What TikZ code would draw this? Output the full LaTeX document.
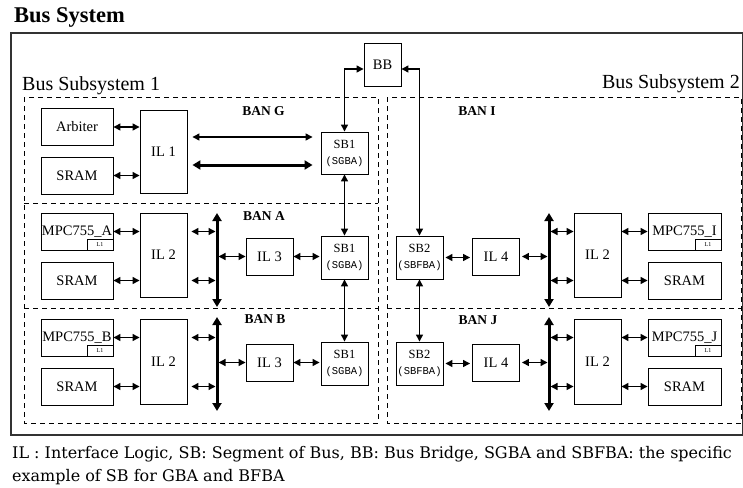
\documentclass[tikz,border=0pt]{standalone}
\usepackage{fontspec}
\setmainfont{Liberation Serif}
\newfontfamily\tagfont{Liberation Mono}
\newfontfamily\notefont{DejaVu Serif}
\usetikzlibrary{arrows.meta}

\tikzset{
  box/.style={draw, line width=0.9pt, inner sep=0pt, minimum width=47pt, font=\fontsize{14.5}{16}\selectfont},
  wide/.style={box, minimum width=72pt, minimum height=37pt},
  sbbox/.style={draw, line width=0.9pt, inner sep=0pt, minimum width=47pt, minimum height=43pt, align=center, font=\fontsize{12.5}{16}\selectfont},
  cache/.style={draw, line width=0.9pt, inner sep=0pt, minimum width=26pt, minimum height=11pt, anchor=south east, font=\fontsize{6}{6}\selectfont},
  banlabel/.style={font=\bfseries\fontsize{13.5}{15}\selectfont},
  region/.style={line width=0.9pt, dash pattern=on 5pt off 4pt},
  link/.style={line width=1.3pt, {Triangle[length=7pt,width=7pt]}-{Triangle[length=7pt,width=7pt]}},
  biglink/.style={line width=3pt, {Triangle[length=8pt,width=9pt]}-{Triangle[length=8pt,width=9pt]}},
}
\newcommand{\sbtag}[1]{{\tagfont\fontsize{10.5}{11}\selectfont(#1)}}

\begin{document}
\begin{tikzpicture}[x=1pt, y=-1pt]
    \useasboundingbox (0,0) rectangle (743,487);

    % titles and frames
    \node[anchor=base west, inner sep=0pt, font=\bfseries\fontsize{22.5}{24}\selectfont] (title) at (14,23) {Bus System};
    \draw[line width=1.2pt, black!80] (11,33) rectangle (742.5,435);
    \node[anchor=base west, inner sep=0pt, font=\fontsize{20}{22}\selectfont] (sub1) at (22,90) {Bus Subsystem 1};
    \node[anchor=base east, inner sep=0pt, font=\fontsize{20}{22}\selectfont] (sub2) at (740,88) {Bus Subsystem 2};
    \draw[region] (24,97) rectangle (378,423);
    \draw[region] (387,97) rectangle (741,423);
    \draw[region] (24,203) -- (378,203);
    \draw[region] (24,308) -- (378,308);
    \draw[region] (387,308) -- (741,308);

    % bus bridge
    \node[box, minimum width=37pt, minimum height=43pt] (bb) at (382.5,64.5) {BB};

    % BAN G
    \node[banlabel] (bang) at (263.5,111) {BAN G};
    \node[wide] (arb) at (77,127) {Arbiter};
    \node[wide] (srg) at (77,175.5) {SRAM};
    \node[box, minimum height=83pt] (il1) at (163.5,151.5) {IL 1};
    \node[sbbox, minimum height=42pt] (sbg) at (344.5,153) {SB1\\\sbtag{SGBA}};
    \draw[link] (arb.east) -- (arb.east -| il1.west);
    \draw[link] (srg.east) -- (srg.east -| il1.west);
    \draw[link, shorten <=5pt, shorten >=8pt] (il1.east |- 0,137) -- (sbg.west |- 0,137);
    \draw[biglink, shorten <=5pt, shorten >=8pt] (il1.east |- 0,165) -- (sbg.west |- 0,165);

    % BAN A
    \node[banlabel] (bana) at (264,216) {BAN A};
    \node[wide] (mpca) at (77,231.5) {MPC755\_A};
    \node[cache] (l1a) at (mpca.south east) {L1};
    \node[wide] (sra) at (77,280.5) {SRAM};
    \node[box, minimum height=84pt] (il2a) at (163.5,255) {IL 2};
    \node[box, minimum height=37pt] (il3a) at (269.5,256.5) {IL 3};
    \node[sbbox] (sba) at (344.5,257.5) {SB1\\\sbtag{SGBA}};
    \coordinate (busat) at (217,213);
    \coordinate (busab) at (217,307);
    \draw[biglink] (busat) -- (busab);
    \draw[link] (mpca.east) -- (mpca.east -| il2a.west);
    \draw[link] (sra.east) -- (sra.east -| il2a.west);
    \draw[link, shorten <=4pt, shorten >=1.5pt] (il2a.east |- mpca.east) -- (busat |- mpca.east);
    \draw[link, shorten <=4pt, shorten >=1.5pt] (il2a.east |- sra.east) -- (busat |- sra.east);
    \draw[link, shorten <=1.5pt] (busat |- il3a.west) -- (il3a.west);
    \draw[link, shorten >=1pt] (il3a.east) -- (il3a.east -| sba.west);

    % BAN B
    \node[banlabel] (banb) at (265,319.5) {BAN B};
    \node[wide] (mpcb) at (77,337.5) {MPC755\_B};
    \node[cache] (l1b) at (mpcb.south east) {L1};
    \node[wide] (srb) at (77,386.5) {SRAM};
    \node[box, minimum height=85pt] (il2b) at (163.5,361.5) {IL 2};
    \node[box, minimum height=37pt] (il3b) at (269.5,362.5) {IL 3};
    \node[sbbox] (sbb) at (344.5,363.5) {SB1\\\sbtag{SGBA}};
    \coordinate (busbt) at (217,317);
    \coordinate (busbb) at (217,411);
    \draw[biglink] (busbt) -- (busbb);
    \draw[link] (mpcb.east) -- (mpcb.east -| il2b.west);
    \draw[link] (srb.east) -- (srb.east -| il2b.west);
    \draw[link, shorten <=4pt, shorten >=1.5pt] (il2b.east |- mpcb.east) -- (busbt |- mpcb.east);
    \draw[link, shorten <=4pt, shorten >=1.5pt] (il2b.east |- srb.east) -- (busbt |- srb.east);
    \draw[link, shorten <=1.5pt] (busbt |- il3b.west) -- (il3b.west);
    \draw[link, shorten >=1pt] (il3b.east) -- (il3b.east -| sbb.west);

    % BAN I
    \node[banlabel] (bani) at (477,111.5) {BAN I};
    \node[sbbox] (sbi) at (419.5,257.5) {SB2\\\sbtag{SBFBA}};
    \node[box, minimum height=37pt] (il4i) at (496,256.5) {IL 4};
    \node[box, minimum height=84pt] (il2i) at (597.5,255) {IL 2};
    \node[wide, minimum width=73pt] (mpci) at (684.5,231.5) {MPC755\_I};
    \node[cache] (l1i) at (mpci.south east) {L1};
    \node[wide, minimum width=73pt] (sri) at (684.5,280.5) {SRAM};
    \coordinate (busit) at (549,213);
    \coordinate (busib) at (549,307);
    \draw[biglink] (busit) -- (busib);
    \draw[link, shorten <=2pt, shorten >=2pt] (sbi.east) -- (sbi.east -| il4i.west);
    \draw[link, shorten <=2pt, shorten >=1.5pt] (il4i.east) -- (il4i.east -| busit);
    \draw[link, shorten <=1.5pt] (busit |- mpci.west) -- (il2i.west |- mpci.west);
    \draw[link, shorten <=1.5pt] (busit |- sri.west) -- (il2i.west |- sri.west);
    \draw[link] (il2i.east |- mpci.west) -- (mpci.west);
    \draw[link] (il2i.east |- sri.west) -- (sri.west);

    % BAN J
    \node[banlabel] (banj) at (478,320) {BAN J};
    \node[sbbox] (sbj) at (419.5,363.5) {SB2\\\sbtag{SBFBA}};
    \node[box, minimum height=37pt] (il4j) at (496,362.5) {IL 4};
    \node[box, minimum height=85pt] (il2j) at (597.5,361.5) {IL 2};
    \node[wide, minimum width=73pt] (mpcj) at (684.5,337.5) {MPC755\_J};
    \node[cache] (l1j) at (mpcj.south east) {L1};
    \node[wide, minimum width=73pt] (srj) at (684.5,386.5) {SRAM};
    \coordinate (busjt) at (549,317);
    \coordinate (busjb) at (549,411);
    \draw[biglink] (busjt) -- (busjb);
    \draw[link, shorten <=2pt, shorten >=2pt] (sbj.east) -- (sbj.east -| il4j.west);
    \draw[link, shorten <=2pt, shorten >=1.5pt] (il4j.east) -- (il4j.east -| busjt);
    \draw[link, shorten <=1.5pt] (busjt |- mpcj.west) -- (il2j.west |- mpcj.west);
    \draw[link, shorten <=1.5pt] (busjt |- srj.west) -- (il2j.west |- srj.west);
    \draw[link] (il2j.east |- mpcj.west) -- (mpcj.west);
    \draw[link] (il2j.east |- srj.west) -- (srj.west);

    % segment links and the bridge
    \draw[link] (sbg.south) -- (sba.north);
    \draw[link] (sba.south) -- (sbb.north);
    \draw[link] (sbi.south) -- (sbj.north);
    \draw[link] (sbg.north) |- ([yshift=-4.5pt]bb.west);
    \draw[link] (sbi.north) |- ([yshift=-4.5pt]bb.east);

    % legend
    \node[anchor=north west, inner sep=0pt, align=left, font=\notefont\fontsize{16}{23}\selectfont] (legend) at (12,446.5)
      {IL : Interface Logic, SB: Segment of Bus, BB: Bus Bridge, SGBA and SBFBA: the specific\\example of SB for GBA and BFBA};
\end{tikzpicture}
\end{document}
